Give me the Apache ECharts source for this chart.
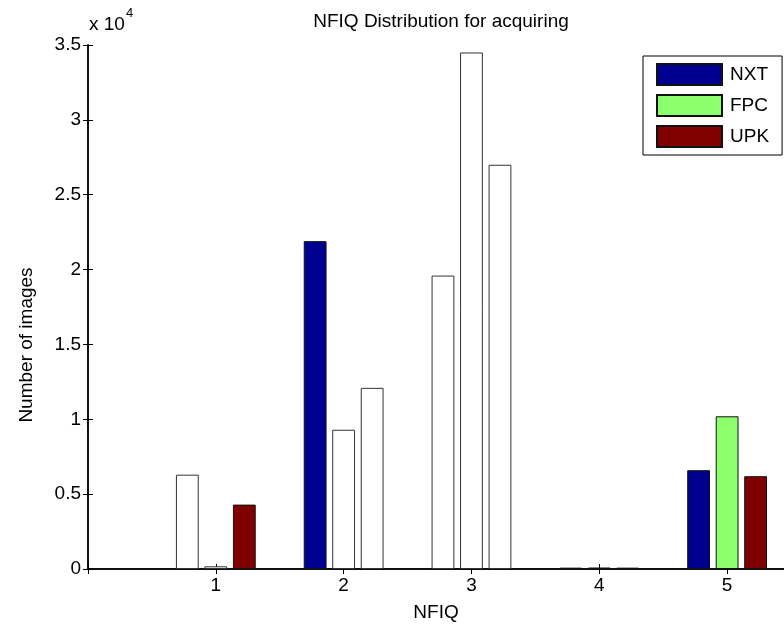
<!DOCTYPE html>
<html>
<head>
<meta charset="utf-8">
<script src="https://cdn.jsdelivr.net/npm/echarts@6/dist/echarts.min.js"></script>
<style>
  html, body { margin: 0; padding: 0; background: #fff; }
  #chart { width: 784px; height: 627px; }
</style>
</head>
<body>
<div id="chart"></div>
<script>
// NFIQ quality levels (x positions of the bar groups)
const nfiqLevels = [1, 2, 3, 4, 5];
// Image counts per NFIQ level for each device
const nxtCounts = [6300, 21900, 19600, 90, 6600];
const fpcCounts = [180, 9300, 34500, 100, 10200];
const upkCounts = [4300, 12100, 27000, 90, 6200];
const seriesNames = ['NXT', 'FPC', 'UPK'];
// Y tick labels are shown in units of 10^4
const yTickValues = [0, 5000, 10000, 15000, 20000, 25000, 30000, 35000];

// Colours and rendering style
const seriesColors = ['#000090', '#8cff6c', '#800000'];
// Per group, the series whose bars are drawn with a white face
const unfilledByGroup = [[0, 1], [1, 2], [0, 1, 2], [], []];
const FONT = 'Liberation Sans, Arial, Helvetica, sans-serif';
const FS = 19;
const X_MAX = 5.445;

const chart = echarts.init(document.getElementById('chart'), null, { renderer: 'canvas' });

const allCounts = [nxtCounts, fpcCounts, upkCounts];

const series = seriesNames.map((name, si) => ({
  name: name,
  type: 'bar',
  barWidth: 22.8,
  barGap: '25%',
  itemStyle: { color: seriesColors[si], borderColor: '#111', borderWidth: 1 },
  data: nfiqLevels.map((lv, gi) => {
    const item = { value: [lv, allCounts[si][gi]] };
    if (unfilledByGroup[gi].indexOf(si) !== -1) {
      item.itemStyle = { color: '#ffffff', borderColor: '#333' };
    }
    return item;
  })
}));

const axisLine = { show: true, lineStyle: { color: '#000', width: 1.5 } };
const innerTick = { show: true, inside: true, length: 5, lineStyle: { color: '#000' } };

const option = {
  animation: false,
  backgroundColor: '#ffffff',
  textStyle: { fontFamily: FONT },
  title: {
    text: 'NFIQ Distribution for acquiring',
    left: 436,
    textAlign: 'center',
    top: 7,
    textStyle: { fontFamily: FONT, fontSize: FS, fontWeight: 'normal', color: '#000' }
  },
  legend: {
    orient: 'vertical',
    left: 643,
    top: 56,
    itemWidth: 65,
    itemHeight: 21,
    itemGap: 8,
    padding: [7, 13, 7, 13],
    borderColor: '#000',
    borderWidth: 1,
    backgroundColor: '#fff',
    icon: 'rect',
    textStyle: { fontFamily: FONT, fontSize: FS, color: '#000', padding: [0, 0, 0, 3] },
    data: seriesNames
  },
  grid: { left: 88, right: 0, top: 45, bottom: 50, containLabel: false },
  xAxis: [{
    type: 'value',
    min: 0,
    max: X_MAX,
    interval: 1,
    position: 'bottom',
    name: 'NFIQ',
    nameLocation: 'middle',
    nameGap: 34,
    nameTextStyle: { fontFamily: FONT, fontSize: FS, color: '#000' },
    axisLine: axisLine,
    axisTick: innerTick,
    axisLabel: {
      fontFamily: FONT, fontSize: FS, color: '#000', margin: 7,
      showMaxLabel: false,
      formatter: v => (nfiqLevels.indexOf(v) !== -1 ? String(v) : '')
    },
    splitLine: { show: false }
  }, {
    type: 'value',
    min: 0,
    max: X_MAX,
    interval: 1,
    position: 'top',
    axisLine: axisLine,
    axisTick: innerTick,
    axisLabel: { show: false },
    splitLine: { show: false }
  }],
  yAxis: [{
    type: 'value',
    min: 0,
    max: 35000,
    interval: 5000,
    position: 'left',
    axisLine: axisLine,
    axisTick: innerTick,
    axisLabel: {
      fontFamily: FONT, fontSize: FS, color: '#000', margin: 7,
      formatter: v => (yTickValues.indexOf(v) !== -1 ? String(v / 10000) : '')
    },
    splitLine: { show: false }
  }, {
    type: 'value',
    min: 0,
    max: 35000,
    interval: 5000,
    position: 'right',
    axisLine: axisLine,
    axisTick: innerTick,
    axisLabel: { show: false },
    splitLine: { show: false }
  }],
  graphic: [{
    type: 'text',
    left: 89,
    top: 7,
    style: {
      text: '{b|x 10}{s|4}',
      rich: {
        b: { fontFamily: FONT, fontSize: FS, fill: '#000', padding: [8, 0, 0, 0] },
        s: { fontFamily: FONT, fontSize: 13, fill: '#000', verticalAlign: 'top', padding: [0, 0, 10, 1] }
      }
    }
  }, {
    type: 'text',
    x: 27,
    y: 345,
    rotation: Math.PI / 2,
    style: {
      text: 'Number of images',
      fontFamily: FONT,
      fontSize: FS,
      fill: '#000',
      align: 'center',
      verticalAlign: 'middle'
    }
  }],
  series: series
};

chart.setOption(option);
</script>
</body>
</html>
